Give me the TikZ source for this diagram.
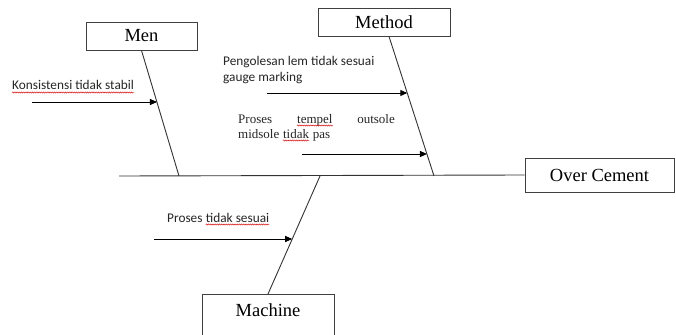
\documentclass[tikz,border=0pt]{standalone}
\usepackage{fontspec}
\setmainfont{Liberation Serif}
\newfontfamily\calfont{Carlito}
\usetikzlibrary{calc,arrows.meta,decorations.pathmorphing}
\tikzset{
  catbox/.style={draw=black!75, line width=0.9pt, inner sep=0pt, font=\fontsize{18.5}{20}\selectfont},
  bone/.style={draw=black!80, line width=0.9pt},
  arr/.style={draw=black, line width=0.9pt, -{Triangle[length=7pt,width=6pt]}},
  ctext/.style={inner sep=0pt, anchor=base west, font=\calfont\fontsize{13.3}{15}\selectfont, text=black!85},
  stext/.style={inner sep=0pt, anchor=base west, font=\fontsize{13}{15}\selectfont, text=black!85},
  wavy/.style={draw=red!85!black, line width=0.45pt, decorate, decoration={snake, amplitude=0.6pt, segment length=2.2pt}}
}
\begin{document}
\begin{tikzpicture}[x=1pt,y=-1pt]
\clip (0,0) rectangle (676,334);
\fill[white] (0,0) rectangle (676,334);
% category boxes
\node[catbox, minimum width=111pt, minimum height=28pt] (men) at (141.5,36) {Men};
\node[catbox, minimum width=132pt, minimum height=28pt] (method) at (384,22) {Method};
\node[catbox, minimum width=149pt, minimum height=34pt] (effect) at (599.5,175) {Over Cement};
\node[catbox, anchor=north, minimum width=132pt, text height=22pt, text depth=32pt] (machine) at (268,294) {Machine};
% spine
\coordinate (spineL) at (119,176);
\draw[bone] (spineL) -- (effect.west);
% bones
\coordinate (m1) at (179,176);
\coordinate (m2) at (434,176);
\coordinate (m3) at (320,176);
\coordinate (mtop) at ([xshift=5pt]method.south);
\draw[bone] (men.south) -- (m1);
\draw[bone] (mtop) -- (m2);
\draw[bone] (machine.north) -- (m3);
% arrow ends on bones
\coordinate (a1e) at ($(men.south)!0.413!(m1)$);
\coordinate (a2e) at ($(mtop)!0.407!(m2)$);
\coordinate (a3e) at ($(mtop)!0.843!(m2)$);
\coordinate (a4e) at ($(machine.north)!0.466!(m3)$);
\coordinate (a1s) at (32,102);
\coordinate (a2s) at (267,93);
\coordinate (a3s) at (302,154);
\coordinate (a4s) at (154,239);
\draw[arr] (a1s) -- (a1s -| a1e);
\draw[arr] (a2s) -- (a2s -| a2e);
\draw[arr] (a3s) -- (a3s -| a3e);
\draw[arr] (a4s) -- (a4s -| a4e);
% cause texts
\node[ctext] (k) at (12,90) {Konsistensi tidak stabil};
\node[ctext] (p1) at (223,66) {Pengolesan lem tidak sesuai};
\node[ctext] (p2) at (223,82) {gauge marking};
\node[stext] (t1) at (238,123) {Proses};
\node[stext] (t2) at (297,123) {tempel};
\node[stext, anchor=base east] (t3) at (395,123) {outsole};
\node[stext] (t4) at (238,138) {midsole};
\node[stext] (t5) at ([xshift=3.3pt]t4.base east) {tidak};
\node[stext] (t6) at ([xshift=3.3pt]t5.base east) {pas};
\node[ctext] (s1) at (167,222) {Proses};
\node[ctext] (s2) at ([xshift=3pt]s1.base east) {tidak sesuai};
% spelling marks
\draw[wavy] ([yshift=-2.5pt]k.base west) -- ([yshift=-2.5pt]k.base east);
\draw[wavy] ([yshift=-2.5pt]t2.base west) -- ([yshift=-2.5pt]t2.base east);
\draw[wavy] ([yshift=-2.5pt]t5.base west) -- ([yshift=-2.5pt]t5.base east);
\draw[wavy] ([yshift=-2.5pt]s2.base west) -- ([yshift=-2.5pt]s2.base east);
\end{tikzpicture}
\end{document}
